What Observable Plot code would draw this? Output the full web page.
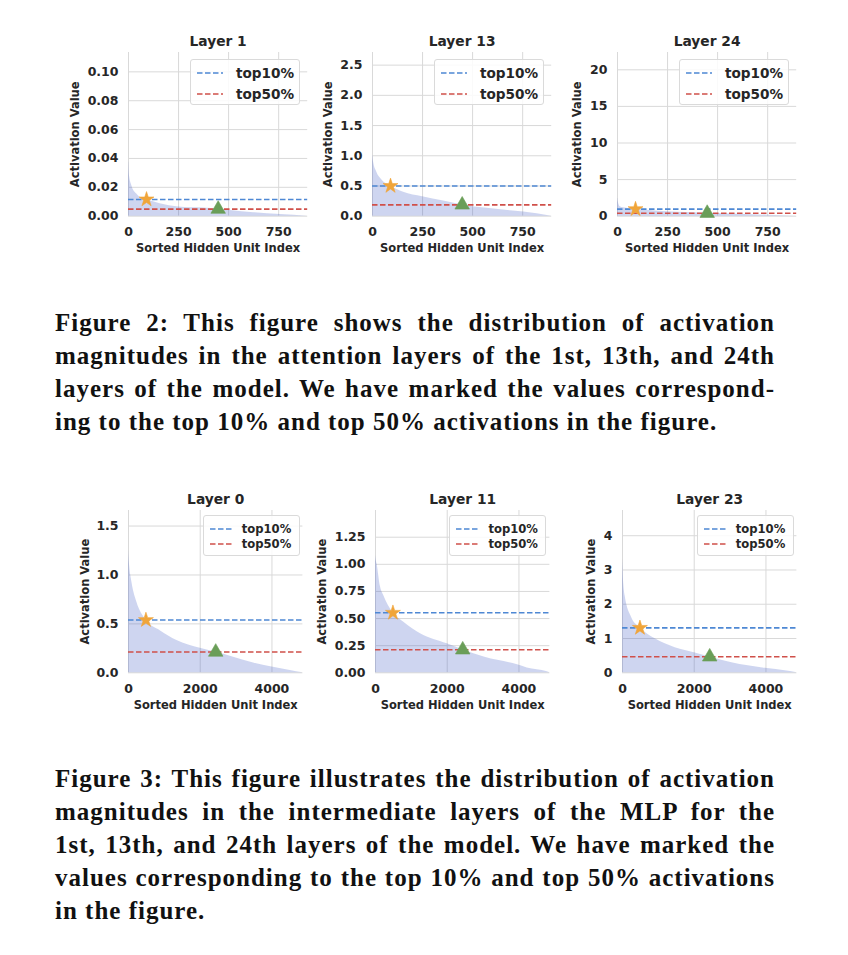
<!DOCTYPE html>
<html>
<head>
<meta charset="utf-8">
<script src="https://cdn.jsdelivr.net/npm/d3@7"></script>
<script src="https://cdn.jsdelivr.net/npm/@observablehq/plot@0.6"></script>
<style>
  body { margin: 0; background: #fff; }
  #page { position: relative; width: 848px; height: 955px; overflow: hidden; background: #fff; }
  .panel { position: absolute; }
  .legend { position: absolute; background: rgba(255,255,255,0.85); border: 1px solid #dadada; border-radius: 3px; box-sizing: border-box;
            font-family: "DejaVu Sans"; font-weight: bold; color: #262626; }
  .legend .row { position: absolute; left: 0; height: 0; }
  .legend .row svg { position: absolute; top: -3px; }
  .legend .row span { position: absolute; white-space: nowrap; transform: translateY(-50%); }
  .caption { position: absolute; left: 55px; width: 720px; font-family: "Liberation Serif"; font-weight: bold;
             font-size: 25px; line-height: 33px; color: #111; letter-spacing: 1px; }
  .caption .l { text-align: justify; text-align-last: justify; }
  .caption .l.last { text-align: left; text-align-last: left; }
</style>
</head>
<body>
<div id="page"></div>
<script>
// ---------------- data ----------------
const titlesTop = ["Layer 1", "Layer 13", "Layer 24"];
const titlesBottom = ["Layer 0", "Layer 11", "Layer 23"];
const unitsTop = 896;
const unitsBottom = 4864;
const xTickLabelsTop = ["0", "250", "500", "750"];
const xTickLabelsBottom = ["0", "2000", "4000"];
const yTickLabelsL1 = ["0.00", "0.02", "0.04", "0.06", "0.08", "0.10"];
const yTickLabelsL13 = ["0.0", "0.5", "1.0", "1.5", "2.0", "2.5"];
const yTickLabelsL24 = ["0", "5", "10", "15", "20"];
const yTickLabelsL0 = ["0.0", "0.5", "1.0", "1.5"];
const yTickLabelsL11 = ["0.00", "0.25", "0.50", "0.75", "1.00", "1.25"];
const yTickLabelsL23 = ["0", "1", "2", "3", "4"];

// sorted activation magnitudes (index, value)
const idxL1 = [0, 1, 5, 17, 40, 58, 90, 158, 250, 375, 448, 508, 625, 758, 895];
const actL1 = [0.108, 0.037, 0.028, 0.021, 0.0155, 0.013, 0.0116, 0.0086, 0.0064, 0.0056, 0.0049, 0.0040, 0.0024, 0.0012, 0.0];
const idxL13 = [0, 1, 5, 22, 47, 90, 155, 250, 355, 448, 572, 688, 822, 895];
const actL13 = [2.58, 1.0, 0.9, 0.725, 0.60, 0.50, 0.395, 0.32, 0.25, 0.187, 0.13, 0.088, 0.04, 0.0];
const idxL24 = [0, 1, 5, 13, 30, 90, 200, 300, 448, 600, 750, 895];
const actL24 = [21.3, 2.4, 1.8, 1.3, 1.15, 0.96, 0.68, 0.53, 0.41, 0.27, 0.13, 0.0];
const idxL0 = [0, 1, 30, 93, 234, 486, 884, 1350, 2000, 2432, 2929, 3487, 4000, 4510, 4863];
const actL0 = [1.58, 1.25, 1.1, 0.93, 0.72, 0.539, 0.43, 0.33, 0.25, 0.212, 0.16, 0.10, 0.058, 0.024, 0.0];
const idxL11 = [0, 1, 46, 140, 232, 486, 790, 1255, 2000, 2432, 3050, 3960, 4230, 4790, 4863];
const actL11 = [1.425, 1.08, 1.0, 0.79, 0.71, 0.553, 0.466, 0.36, 0.267, 0.212, 0.144, 0.074, 0.045, 0.01, 0.0];
const idxL23 = [0, 1, 74, 260, 494, 911, 1469, 2028, 2419, 3049, 3980, 4586, 4863];
const actL23 = [4.51, 3.3, 2.24, 1.6, 1.31, 0.99, 0.73, 0.58, 0.466, 0.29, 0.13, 0.05, 0.0];

const top10Top = [0.0116, 0.50, 0.96];
const top50Top = [0.0049, 0.187, 0.41];
const top10Bottom = [0.539, 0.553, 1.31];
const top50Bottom = [0.212, 0.212, 0.466];
const markerIdxTop = [90, 448];
const markerIdxBottom = [486, 2432];
const legendLabels = ["top10%", "top50%"];

const caption2 = [
  "Figure 2: This figure shows the distribution of activation",
  "magnitudes in the attention layers of the 1st, 13th, and 24th",
  "layers of the model. We have marked the values correspond-",
  "ing to the top 10% and top 50% activations in the figure."
];
const caption3 = [
  "Figure 3: This figure illustrates the distribution of activation",
  "magnitudes in the intermediate layers of the MLP for the",
  "1st, 13th, and 24th layers of the model. We have marked the",
  "values corresponding to the top 10% and top 50% activations",
  "in the figure."
];

// ---------------- styles / layout ----------------
const C = {
  fill: "#3a56c4", fillOpacity: 0.25,
  blue: "#4e88d4", red: "#d0504a",
  star: "#f0a53a", tri: "#6a9e58",
  grid: "#d9d9d9", text: "#262626"
};
const M = {left: 62, right: 12, top: 26, bottom: 44};

const panels = [
  {title: titlesTop[0], n: unitsTop, idx: idxL1, act: actL1, t10: top10Top[0], t50: top50Top[0], yl: yTickLabelsL1, xl: xTickLabelsTop, mk: markerIdxTop,
   f: {l: 128.3, r: 307.5, t: 52, b: 215.7}, yOff: 53, big: true},
  {title: titlesTop[1], n: unitsTop, idx: idxL13, act: actL13, t10: top10Top[1], t50: top50Top[1], yl: yTickLabelsL13, xl: xTickLabelsTop, mk: markerIdxTop,
   f: {l: 372.3, r: 551.5, t: 52, b: 215.7}, yOff: 44, big: true},
  {title: titlesTop[2], n: unitsTop, idx: idxL24, act: actL24, t10: top10Top[2], t50: top50Top[2], yl: yTickLabelsL24, xl: xTickLabelsTop, mk: markerIdxTop,
   f: {l: 617.3, r: 796.5, t: 52, b: 215.7}, yOff: 40, big: true},
  {title: titlesBottom[0], n: unitsBottom, idx: idxL0, act: actL0, t10: top10Bottom[0], t50: top50Bottom[0], yl: yTickLabelsL0, xl: xTickLabelsBottom, mk: markerIdxBottom,
   f: {l: 128.3, r: 302.7, t: 510, b: 672.3}, yOff: 43, big: false},
  {title: titlesBottom[1], n: unitsBottom, idx: idxL11, act: actL11, t10: top10Bottom[1], t50: top50Bottom[1], yl: yTickLabelsL11, xl: xTickLabelsBottom, mk: markerIdxBottom,
   f: {l: 375, r: 549.4, t: 510, b: 672.3}, yOff: 53, big: false},
  {title: titlesBottom[2], n: unitsBottom, idx: idxL23, act: actL23, t10: top10Bottom[2], t50: top50Bottom[2], yl: yTickLabelsL23, xl: xTickLabelsBottom, mk: markerIdxBottom,
   f: {l: 622.3, r: 796.7, t: 510, b: 672.3}, yOff: 31, big: false}
];

const page = document.getElementById("page");
const dash = "5.5,2.5";

panels.forEach(p => {
  const data = p.idx.map((i, k) => ({i, v: p.act[k]}));
  const yTicks = p.yl.map(Number);
  const xTicks = p.xl.map(Number);
  const yLab = new Map(yTicks.map((d, k) => [d, p.yl[k]]));
  const xLab = new Map(xTicks.map((d, k) => [d, p.xl[k]]));
  const ymax = d3.max(p.act) * 1.05;
  const fw = p.f.r - p.f.l, fh = p.f.b - p.f.t;
  const chart = Plot.plot({
    width: fw + M.left + M.right,
    height: fh + M.top + M.bottom,
    marginLeft: M.left, marginRight: M.right, marginTop: M.top, marginBottom: M.bottom,
    x: {domain: [0, p.n - 1]},
    y: {domain: [0, ymax]},
    style: {fontFamily: "DejaVu Sans", background: "transparent", overflow: "visible"},
    marks: [
      Plot.gridX(xTicks, {stroke: C.grid, strokeOpacity: 1, strokeWidth: 1}),
      Plot.gridY(yTicks, {stroke: C.grid, strokeOpacity: 1, strokeWidth: 1}),
      Plot.areaY(data, {x: "i", y: "v", fill: C.fill, fillOpacity: C.fillOpacity, curve: "monotone-x"}),
      Plot.ruleY([p.t10], {stroke: C.blue, strokeWidth: 1.6, strokeDasharray: dash}),
      Plot.ruleY([p.t50], {stroke: C.red, strokeWidth: 1.6, strokeDasharray: dash}),
      Plot.dot([{x: p.mk[0], y: p.t10}], {x: "x", y: "y", symbol: "star", r: 4.7, fill: C.star, stroke: C.star, strokeWidth: 0.6}),
      Plot.dot([{x: p.mk[1], y: p.t50}], {x: "x", y: "y", symbol: "triangle", r: 5.4, fill: C.tri, stroke: C.tri, strokeWidth: 0.6}),
      Plot.axisX(xTicks, {tickSize: 0, tickPadding: 11, label: null, tickFormat: d => xLab.get(d),
        fontSize: 12.5, fontWeight: "bold", fill: C.text}),
      Plot.axisY(yTicks, {tickSize: 0, tickPadding: 10, label: null, tickFormat: d => yLab.get(d),
        fontSize: 12.5, fontWeight: "bold", fill: C.text}),
      Plot.text([p.title], {frameAnchor: "top", dy: -11, fontSize: 13.8, fontWeight: "bold", fill: C.text, lineAnchor: "middle"}),
      Plot.text(["Sorted Hidden Unit Index"], {frameAnchor: "bottom", dy: 32.5, fontSize: 11.5, fontWeight: "bold", fill: C.text, lineAnchor: "middle"}),
      Plot.text(["Activation Value"], {frameAnchor: "left", dx: -p.yOff, rotate: -90, textAnchor: "middle", lineAnchor: "middle",
        fontSize: 11.5, fontWeight: "bold", fill: C.text})
    ]
  });
  chart.classList.add("panel");
  chart.style.left = (p.f.l - M.left) + "px";
  chart.style.top = (p.f.t - M.top) + "px";
  page.appendChild(chart);

  // legend
  const L = p.big
    ? {w: 110, h: 46, inR: 7.5, inT: 7, rows: [12.5, 33.5], l0: 6, l1: 32, tx: 45, fs: 13.6}
    : {w: 97, h: 41, inR: 3, inT: 5, rows: [12.5, 28], l0: 6, l1: 30, tx: 38, fs: 11.6};
  const lg = document.createElement("div");
  lg.className = "legend";
  lg.style.width = L.w + "px";
  lg.style.height = L.h + "px";
  lg.style.left = (p.f.r - L.inR - L.w) + "px";
  lg.style.top = (p.f.t + L.inT) + "px";
  lg.style.fontSize = L.fs + "px";
  [C.blue, C.red].forEach((col, k) => {
    const row = document.createElement("div");
    row.className = "row";
    row.style.top = L.rows[k] + "px";
    row.innerHTML = `<svg width="${L.l1 + 2}" height="6" style="left:0"><line x1="${L.l0}" x2="${L.l1}" y1="3" y2="3" stroke="${col}" stroke-width="1.6" stroke-dasharray="${dash}"/></svg>` +
      `<span style="left:${L.tx}px">${legendLabels[k]}</span>`;
    lg.appendChild(row);
  });
  page.appendChild(lg);
});

function addCaption(lines, top) {
  const div = document.createElement("div");
  div.className = "caption";
  div.style.top = top + "px";
  lines.forEach((t, k) => {
    const l = document.createElement("div");
    l.className = "l" + (k === lines.length - 1 ? " last" : "");
    l.textContent = t;
    div.appendChild(l);
  });
  page.appendChild(div);
}
addCaption(caption2, 305.5);
addCaption(caption3, 761.5);
</script>
</body>
</html>
